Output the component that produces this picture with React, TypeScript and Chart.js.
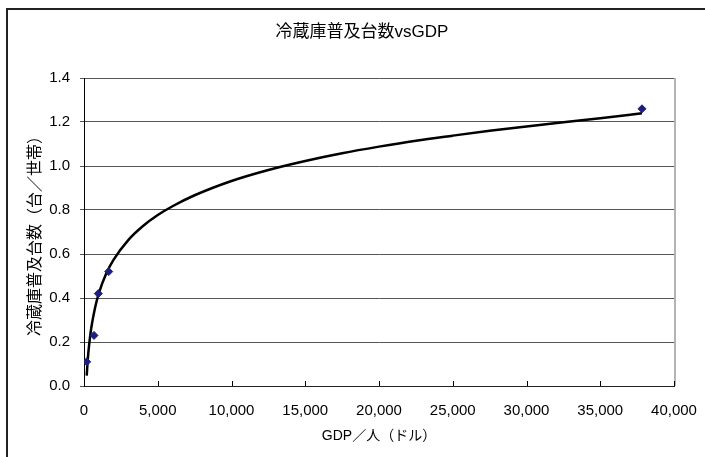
import React, { useEffect, useRef } from "react";
import { Chart, registerables } from "chart.js";

Chart.register(...registerables);

const chartTitle = "冷蔵庫普及台数vsGDP";
const xAxisTitle = "GDP／人（ドル）";
const yAxisTitle = "冷蔵庫普及台数（台／世帯）";

// observed countries
const gdpPerCapita = [183, 678, 970, 1674, 37830];
const fridgesPerHousehold = [0.11, 0.23, 0.42, 0.52, 1.26];

// trend curve
const trendX = [183, 250, 300, 400, 500, 750, 1000, 1500, 2000, 3000, 4000, 5000, 6000, 7500, 10000, 12500, 15000, 17500, 20000, 22500, 25000, 27500, 30000, 32500, 35000, 37830];
const trendY = [0.047, 0.115, 0.155, 0.218, 0.267, 0.356, 0.42, 0.51, 0.573, 0.663, 0.727, 0.777, 0.817, 0.867, 0.932, 0.982, 1.023, 1.058, 1.088, 1.115, 1.138, 1.16, 1.18, 1.199, 1.217, 1.24];

const xTicks = [0, 5000, 10000, 15000, 20000, 25000, 30000, 35000, 40000];
const yTicks = [0, 0.2, 0.4, 0.6, 0.8, 1.0, 1.2, 1.4];

const FONT = "'Liberation Sans', 'Noto Sans CJK JP', sans-serif";

const decorPlugin = {
  id: "decor",
  beforeDraw(chart: any) {
    const ctx = chart.ctx;
    ctx.save();
    ctx.fillStyle = "#ffffff";
    ctx.fillRect(0, 0, chart.width, chart.height);
    ctx.restore();
  },
  afterDraw(chart: any) {
    const ctx = chart.ctx;
    const { top, bottom, right } = chart.chartArea;
    const xs = chart.scales.x;
    ctx.save();
    // right border of plot
    ctx.fillStyle = "#b4b4b4";
    ctx.fillRect(right, top, 2, bottom - top);
    // inside tick marks on x axis
    ctx.strokeStyle = "#000";
    ctx.lineWidth = 1;
    xTicks.forEach((v) => {
      const px = Math.round(xs.getPixelForValue(v)) + 0.5;
      ctx.beginPath();
      ctx.moveTo(px, bottom);
      ctx.lineTo(px, bottom - 5);
      ctx.stroke();
    });
    // outer chart frame (left and top)
    ctx.fillStyle = "#222";
    ctx.fillRect(6, 8, 2, chart.height - 8);
    ctx.fillRect(6, 8, chart.width - 6, 2);
    // title
    ctx.fillStyle = "#000";
    ctx.font = "17px " + FONT;
    ctx.textAlign = "center";
    ctx.textBaseline = "middle";
    ctx.fillText(chartTitle, 362, 32);
    ctx.restore();
  },
};

export default function App() {
  const ref = useRef<HTMLCanvasElement>(null);
  useEffect(() => {
    if (!ref.current) return;
    const chart = new Chart(ref.current, {
      type: "scatter",
      data: {
        datasets: [
          {
            label: "data",
            data: gdpPerCapita.map((x, i) => ({ x, y: fridgesPerHousehold[i] })),
            pointStyle: "rectRot",
            pointRadius: 4,
            pointBackgroundColor: "#1e1e82",
            pointBorderColor: "#1e1e82",
            pointBorderWidth: 1,
            showLine: false,
          },
          {
            label: "trend",
            data: trendX.map((x, i) => ({ x, y: trendY[i] })),
            showLine: true,
            borderColor: "#000",
            borderWidth: 2.5,
            pointRadius: 0,
            cubicInterpolationMode: "monotone",
          } as any,
        ],
      },
      options: {
        animation: false,
        responsive: false,
        devicePixelRatio: 1,
        layout: { padding: { top: 78, right: 31, bottom: 0, left: 0 } },
        plugins: {
          legend: { display: false },
          tooltip: { enabled: false },
          title: { display: false },
        },
        scales: {
          x: {
            type: "linear",
            min: 0,
            max: 40000,
            afterFit: (s: any) => {
              s.height = 71;
              s.paddingLeft = 0;
              s.paddingRight = 0;
            },
            afterBuildTicks: (s: any) => {
              s.ticks = xTicks.map((v) => ({ value: v }));
            },
            grid: { display: false, drawTicks: false },
            border: { display: true, color: "#222", width: 1 },
            ticks: {
              padding: 16,
              color: "#000",
              font: { family: FONT, size: 15 },
              maxRotation: 0,
              callback: (v: any) => Number(v).toLocaleString("en-US"),
            },
            title: {
              display: true,
              text: xAxisTitle,
              color: "#000",
              font: { family: FONT, size: 14 },
              padding: { top: 0, bottom: 12 },
            },
          },
          y: {
            type: "linear",
            min: 0,
            max: 1.4,
            afterFit: (s: any) => {
              s.width = 84;
              s.paddingTop = 0;
              s.paddingBottom = 0;
            },
            afterBuildTicks: (s: any) => {
              s.ticks = yTicks.map((v) => ({ value: v }));
            },
            grid: { color: "#555", drawTicks: true, tickLength: 4 },
            border: { display: true, color: "#000", width: 1 },
            ticks: {
              padding: 10,
              color: "#000",
              font: { family: FONT, size: 15 },
              callback: (v: any) => Number(v).toFixed(1),
            },
            title: {
              display: true,
              text: yAxisTitle,
              color: "#000",
              font: { family: FONT, size: 16 },
              padding: { top: 26, bottom: 0 },
            },
          },
        },
      },
      plugins: [decorPlugin],
    });
    return () => chart.destroy();
  }, []);
  return (
    <canvas
      ref={ref}
      width={705}
      height={457}
      style={{ position: "absolute", left: 0, top: 0, display: "block" }}
    />
  );
}
